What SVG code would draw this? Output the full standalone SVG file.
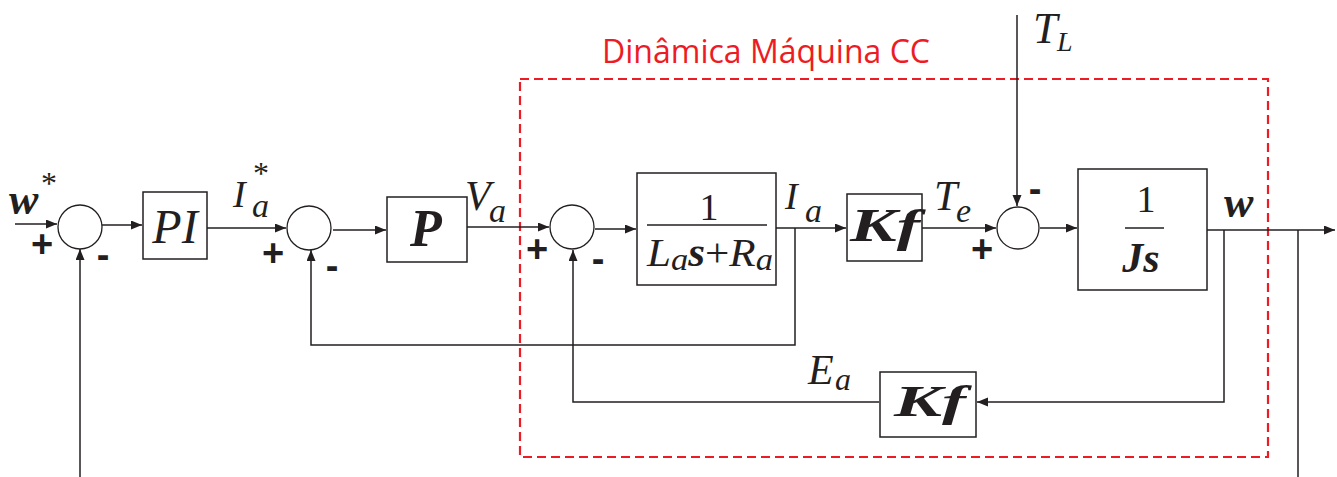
<svg xmlns="http://www.w3.org/2000/svg" width="1337" height="477" viewBox="0 0 1337 477">
<style>
.ln{fill:none;stroke:#231f20;stroke-width:1.5}
.bx{fill:#fff;stroke:#231f20;stroke-width:1.5}
.sum{fill:#fff;stroke:#231f20;stroke-width:1.3}
.it{font-family:"Liberation Serif",serif;font-style:italic;fill:#231f20}
.bi{font-family:"Liberation Serif",serif;font-style:italic;font-weight:bold;fill:#231f20}
.rm{font-family:"Liberation Serif",serif;font-style:normal;font-weight:normal;fill:#231f20}
.sg{font-family:"Liberation Sans",Arial,sans-serif;font-weight:bold;fill:#231f20;font-size:38px;text-anchor:middle}
.red{font-family:"Open Sans","Liberation Sans",sans-serif;fill:#ed1c24;font-size:32px}
</style>
<defs>
<marker id="ah" markerUnits="userSpaceOnUse" markerWidth="12" markerHeight="10" refX="11" refY="4.5" orient="auto">
<path d="M0,0 L11,4.5 L0,9 z" fill="#231f20"/>
</marker>
</defs>

<g id="frame">
<rect x="520" y="79" width="748" height="378" fill="none" stroke="#ed1c24" stroke-width="2.2" stroke-dasharray="9,5"/>
<text class="red" x="602" y="63" textLength="328" lengthAdjust="spacingAndGlyphs">Dinâmica Máquina CC</text>
</g>

<g id="connectors">
<line class="ln" x1="15" y1="224" x2="57" y2="224" marker-end="url(#ah)"/>
<line class="ln" x1="102" y1="225" x2="142" y2="225" marker-end="url(#ah)"/>
<line class="ln" x1="207" y1="228" x2="286" y2="228" marker-end="url(#ah)"/>
<line class="ln" x1="333" y1="230" x2="386" y2="230" marker-end="url(#ah)"/>
<line class="ln" x1="467" y1="227" x2="549" y2="227" marker-end="url(#ah)"/>
<line class="ln" x1="595" y1="229" x2="636" y2="229" marker-end="url(#ah)"/>
<line class="ln" x1="776" y1="228" x2="846" y2="228" marker-end="url(#ah)"/>
<line class="ln" x1="922" y1="228" x2="996" y2="228" marker-end="url(#ah)"/>
<line class="ln" x1="1040" y1="228" x2="1077" y2="228" marker-end="url(#ah)"/>
<line class="ln" x1="1207" y1="230" x2="1335" y2="230" marker-end="url(#ah)"/>
<line class="ln" x1="1017" y1="15" x2="1017" y2="206" marker-end="url(#ah)"/>
<line class="ln" x1="80" y1="477" x2="80" y2="249" marker-end="url(#ah)"/>
<polyline class="ln" points="795,228 795,345 311,345 311,250" marker-end="url(#ah)"/>
<polyline class="ln" points="879,402 573,402 573,250" marker-end="url(#ah)"/>
<polyline class="ln" points="1224,230 1224,402 977,402" marker-end="url(#ah)"/>
<line class="ln" x1="1298" y1="230" x2="1298" y2="477"/>
</g>

<g id="sum1">
<circle class="sum" cx="80" cy="227" r="22"/>
<text class="sg" x="42" y="257">+</text>
<text class="sg" x="103" y="268">-</text>
</g>
<g id="sum2">
<circle class="sum" cx="309" cy="228" r="22"/>
<text class="sg" x="273" y="266">+</text>
<text class="sg" x="332" y="279">-</text>
</g>
<g id="sum3">
<circle class="sum" cx="572" cy="227" r="22"/>
<text class="sg" x="537" y="262">+</text>
<text class="sg" x="598" y="272">-</text>
</g>
<g id="sum4">
<circle class="sum" cx="1018" cy="228" r="21"/>
<text class="sg" x="982" y="262">+</text>
<text class="sg" x="1035" y="202">-</text>
</g>

<g id="PI">
<rect class="bx" x="143" y="192" width="64" height="67"/>
<text class="it" x="175" y="243" font-size="48" text-anchor="middle">PI</text>
</g>
<g id="P">
<rect class="bx" x="387" y="197" width="80" height="65"/>
<text class="bi" x="426" y="246" font-size="52" text-anchor="middle">P</text>
</g>
<g id="armature">
<rect class="bx" x="637" y="173" width="139" height="112"/>
<text class="rm" x="709" y="220" font-size="38" text-anchor="middle">1</text>
<line class="ln" x1="647" y1="225" x2="767" y2="225"/>
<text x="647" y="266" font-size="40" textLength="126" lengthAdjust="spacingAndGlyphs"><tspan class="it">L</tspan><tspan class="it" font-size="32" dy="4">a</tspan><tspan class="bi" dy="-4">s</tspan><tspan class="rm">+</tspan><tspan class="it">R</tspan><tspan class="it" font-size="32" dy="4">a</tspan></text>
</g>
<g id="Kf1">
<rect class="bx" x="847" y="194" width="75" height="67"/>
<text class="bi" x="850" y="241" font-size="46" textLength="70" lengthAdjust="spacingAndGlyphs">Kf</text>
</g>
<g id="inertia">
<rect class="bx" x="1078" y="169" width="129" height="121"/>
<text class="rm" x="1146" y="212" font-size="38" text-anchor="middle">1</text>
<line class="ln" x1="1125" y1="228" x2="1164" y2="228"/>
<text class="bi" x="1141" y="272" font-size="42" text-anchor="middle">Js</text>
</g>
<g id="Kf2">
<rect class="bx" x="880" y="372" width="96" height="65"/>
<text class="bi" x="894" y="416" font-size="44" textLength="72" lengthAdjust="spacingAndGlyphs">Kf</text>
</g>

<g id="labels">
<text class="bi" font-size="44"><tspan x="9" y="214">w</tspan><tspan class="rm" x="41" y="194" font-size="32">*</tspan></text>
<text class="it" font-size="38"><tspan x="233" y="207">I</tspan><tspan x="252" y="217" font-size="34">a</tspan><tspan class="rm" x="253" y="184" font-size="32">*</tspan></text>
<text class="it" font-size="42"><tspan x="465" y="210">V</tspan><tspan x="489" y="222" font-size="34">a</tspan></text>
<text class="it" font-size="38"><tspan x="785" y="209">I</tspan><tspan x="805" y="222" font-size="34">a</tspan></text>
<text class="it" font-size="42"><tspan x="934" y="210">T</tspan><tspan x="956" y="222" font-size="34">e</tspan></text>
<text class="it" font-size="44"><tspan x="1033" y="43">T</tspan><tspan x="1057" y="51" font-size="28">L</tspan></text>
<text class="it" font-size="42"><tspan x="808" y="384">E</tspan><tspan x="835" y="390" font-size="32">a</tspan></text>
<text class="bi" x="1224" y="217" font-size="44">w</text>
</g>
</svg>
